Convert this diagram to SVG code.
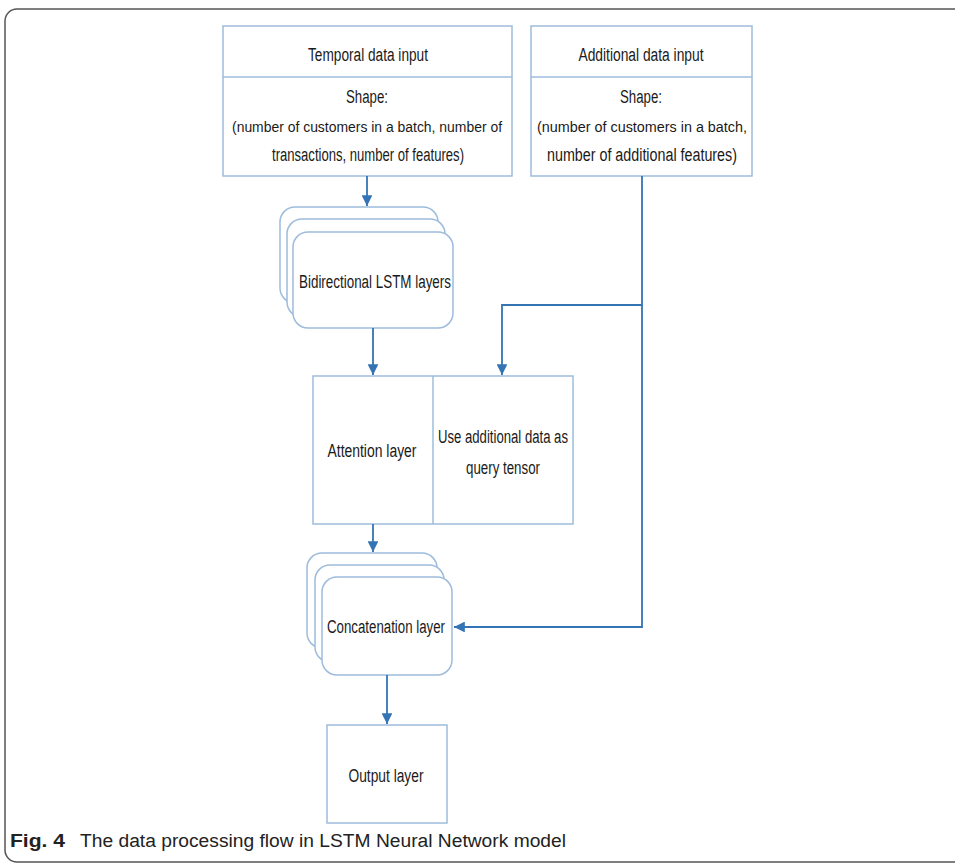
<svg xmlns="http://www.w3.org/2000/svg" width="955" height="864" viewBox="0 0 955 864">
<defs>
<style>
.box{fill:#fff;stroke:#9dbcdc;stroke-width:1.5}
.div{stroke:#9dbcdc;stroke-width:1.5}
.t{font-family:"Liberation Sans",Arial,sans-serif;font-size:18px;fill:#1a1a1a;text-anchor:middle}
.s{font-size:15.5px}
.c{stroke:#3474b4;stroke-width:1.8;fill:none}
.cap{font-family:"Liberation Sans",Arial,sans-serif;font-size:18px;fill:#222}
</style>
<marker id="ah" viewBox="0 0 10 10" refX="10" refY="5" markerWidth="6" markerHeight="6" orient="auto" markerUnits="strokeWidth">
<path d="M0,0 L10,5 L0,10 z" fill="#3474b4"/>
</marker>
</defs>
<rect x="0" y="0" width="955" height="864" fill="#fff"/>
<rect x="5" y="9" width="1000" height="853" rx="12" fill="none" stroke="#555" stroke-width="1.5"/>

<g id="temporal">
<rect class="box" x="223" y="26" width="289" height="150"/>
<line class="div" x1="223" y1="77" x2="512" y2="77"/>
<text class="t" x="368" y="61" textLength="120" lengthAdjust="spacingAndGlyphs">Temporal data input</text>
<text class="t" x="367" y="103" textLength="42" lengthAdjust="spacingAndGlyphs">Shape:</text>
<text class="t s" x="367" y="132" textLength="270" lengthAdjust="spacingAndGlyphs">(number of customers in a batch, number of</text>
<text class="t" x="368" y="161" textLength="192" lengthAdjust="spacingAndGlyphs">transactions, number of features)</text>
</g>

<g id="additional">
<rect class="box" x="531" y="26" width="221" height="150"/>
<line class="div" x1="531" y1="77" x2="752" y2="77"/>
<text class="t" x="641" y="61" textLength="125" lengthAdjust="spacingAndGlyphs">Additional data input</text>
<text class="t" x="641" y="103" textLength="42" lengthAdjust="spacingAndGlyphs">Shape:</text>
<text class="t s" x="642" y="132" textLength="210" lengthAdjust="spacingAndGlyphs">(number of customers in a batch,</text>
<text class="t" x="642" y="161" textLength="190" lengthAdjust="spacingAndGlyphs">number of additional features)</text>
</g>

<g id="bilstm">
<rect class="box" x="280" y="207" width="158" height="96" rx="15"/>
<rect class="box" x="287" y="219" width="158" height="98" rx="15"/>
<rect class="box" x="293" y="232" width="160" height="96" rx="15"/>
<text class="t" x="375" y="288" textLength="152" lengthAdjust="spacingAndGlyphs">Bidirectional LSTM layers</text>
</g>

<g id="attention">
<rect class="box" x="313" y="376" width="260" height="148"/>
<line class="div" x1="433" y1="376" x2="433" y2="524"/>
<text class="t" x="372" y="457" textLength="89" lengthAdjust="spacingAndGlyphs">Attention layer</text>
<text class="t" x="503" y="443" textLength="130" lengthAdjust="spacingAndGlyphs">Use additional data as</text>
<text class="t" x="503" y="474" textLength="74" lengthAdjust="spacingAndGlyphs">query tensor</text>
</g>

<g id="concat">
<rect class="box" x="307" y="553" width="130" height="95" rx="15"/>
<rect class="box" x="315" y="565" width="129" height="97" rx="15"/>
<rect class="box" x="322" y="577" width="130" height="98" rx="15"/>
<text class="t" x="386" y="633" textLength="118" lengthAdjust="spacingAndGlyphs">Concatenation layer</text>
</g>

<g id="output">
<rect class="box" x="327" y="725" width="120" height="98"/>
<text class="t" x="386" y="782" textLength="75" lengthAdjust="spacingAndGlyphs">Output layer</text>
</g>

<g id="connectors">
<line class="c" x1="367" y1="176" x2="367" y2="206" marker-end="url(#ah)"/>
<polyline class="c" points="642,176 642,305 502,305 502,375" marker-end="url(#ah)"/>
<polyline class="c" points="642,305 642,627 454,627" marker-end="url(#ah)"/>
<line class="c" x1="373" y1="328" x2="373" y2="375" marker-end="url(#ah)"/>
<line class="c" x1="373" y1="524" x2="373" y2="552" marker-end="url(#ah)"/>
<line class="c" x1="387" y1="675" x2="387" y2="724" marker-end="url(#ah)"/>
</g>

<g id="caption">
<text class="cap" x="10" y="847" font-weight="bold" textLength="55" lengthAdjust="spacingAndGlyphs">Fig. 4</text>
<text class="cap" x="80" y="847" textLength="486" lengthAdjust="spacingAndGlyphs">The data processing flow in LSTM Neural Network model</text>
</g>
</svg>
